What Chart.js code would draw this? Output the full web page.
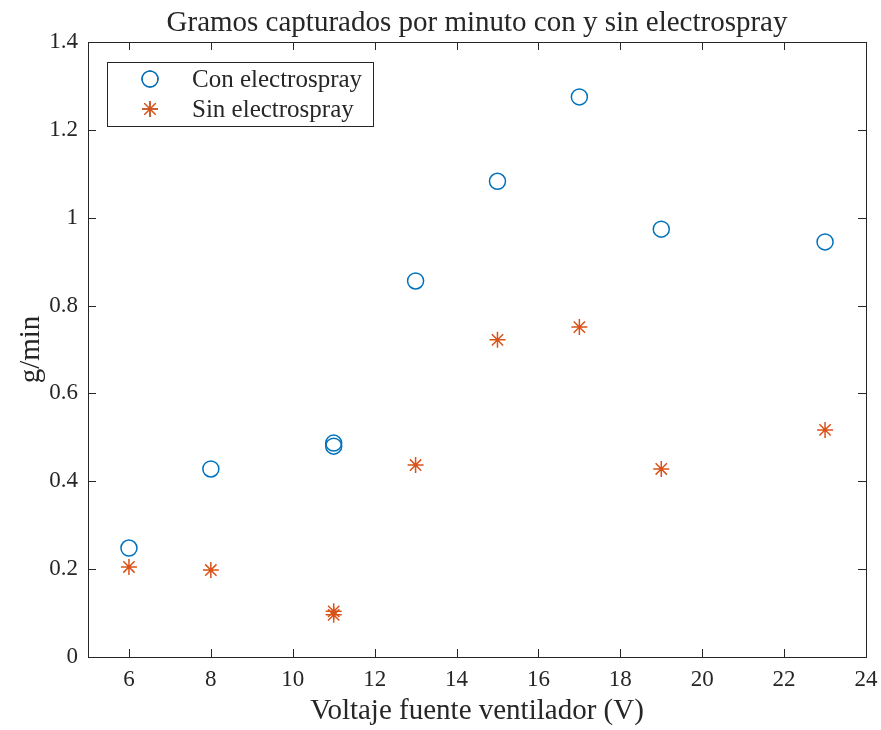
<!DOCTYPE html>
<html>
<head>
<meta charset="utf-8">
<title>Gramos capturados por minuto</title>
<script src="https://cdn.jsdelivr.net/npm/chart.js@4"></script>
<style>
  html, body { margin: 0; padding: 0; background: #fff; }
  canvas { display: block; }
</style>
</head>
<body>
<canvas id="chart" width="881" height="730"></canvas>
<script>
// voltage (V) and captured grams per minute
const voltaje = [6, 8, 11, 11, 13, 15, 17, 19, 23];
const conElectrospray = [0.248, 0.428, 0.487, 0.480, 0.856, 1.083, 1.275, 0.974, 0.945];
const sinElectrospray = [0.205, 0.198, 0.104, 0.096, 0.437, 0.722, 0.751, 0.428, 0.517];
const xTicks = [6, 8, 10, 12, 14, 16, 18, 20, 22, 24];
const yTicks = [0, 0.2, 0.4, 0.6, 0.8, 1, 1.2, 1.4];

const FONT = '"Liberation Serif", "DejaVu Serif", serif';
const AXIS_COLOR = '#262626';
const BLUE = '#0072BD';
const ORANGE = '#D95319';

const toPoints = ys => ys.map((y, i) => ({ x: voltaje[i], y: y }));

// box around the plot with inward ticks on all four sides, plus the legend
const boxPlugin = {
    id: 'box',
    afterDraw(chart) {
        const { ctx, chartArea: a, scales } = chart;
        ctx.save();
        ctx.strokeStyle = AXIS_COLOR;
        ctx.lineWidth = 1;
        ctx.strokeRect(a.left + 0.5, a.top + 0.5, a.right - a.left, a.bottom - a.top);
        const len = 8;
        ctx.beginPath();
        xTicks.forEach(v => {
            const px = Math.round(scales.x.getPixelForValue(v)) + 0.5;
            ctx.moveTo(px, a.bottom); ctx.lineTo(px, a.bottom - len);
            ctx.moveTo(px, a.top); ctx.lineTo(px, a.top + len);
        });
        yTicks.forEach(v => {
            const py = Math.round(scales.y.getPixelForValue(v)) + 0.5;
            ctx.moveTo(a.left, py); ctx.lineTo(a.left + len, py);
            ctx.moveTo(a.right, py); ctx.lineTo(a.right - len, py);
        });
        ctx.stroke();

        // legend
        const lx = 107, ly = 62, lw = 266, lh = 64;
        ctx.fillStyle = '#fff';
        ctx.fillRect(lx, ly, lw, lh);
        ctx.strokeRect(lx + 0.5, ly + 0.5, lw, lh);
        ctx.font = '25px ' + FONT;
        ctx.textBaseline = 'middle';
        ctx.textAlign = 'left';
        chart.data.datasets.forEach((ds, i) => {
            const y = ly + 17 + i * 30;
            Chart.helpers.drawPoint(ctx, {
                pointStyle: ds.pointStyle,
                radius: ds.pointRadius,
                borderWidth: ds.borderWidth,
                rotation: 0
            }, 150, y);
            ctx.strokeStyle = ds.borderColor;
            ctx.lineWidth = ds.borderWidth;
            ctx.stroke();
            ctx.fillStyle = AXIS_COLOR;
            ctx.fillText(ds.label, 192, y + 1);
            ctx.strokeStyle = AXIS_COLOR;
            ctx.lineWidth = 1;
        });
        ctx.restore();
    }
};

new Chart(document.getElementById('chart'), {
    type: 'scatter',
    data: {
        datasets: [
            {
                label: 'Con electrospray',
                data: toPoints(conElectrospray),
                pointStyle: 'circle',
                pointRadius: 8,
                borderWidth: 1.5,
                borderColor: BLUE,
                backgroundColor: 'rgba(0,0,0,0)'
            },
            {
                label: 'Sin electrospray',
                data: toPoints(sinElectrospray),
                pointStyle: 'star',
                pointRadius: 8,
                borderWidth: 1.5,
                borderColor: ORANGE,
                backgroundColor: ORANGE
            }
        ]
    },
    options: {
        responsive: false,
        animation: false,
        layout: { padding: { left: 0, right: 15, top: 0, bottom: 0 } },
        plugins: {
            legend: { display: false },
            tooltip: { enabled: false },
            title: {
                display: true,
                fullSize: false,
                text: 'Gramos capturados por minuto con y sin electrospray',
                color: AXIS_COLOR,
                font: { family: FONT, size: 29, weight: 'normal', lineHeight: 1.2 },
                padding: { top: 6, bottom: 1.2 }
            }
        },
        scales: {
            x: {
                type: 'linear',
                min: 5,
                max: 24,
                afterBuildTicks: s => { s.ticks = xTicks.map(v => ({ value: v })); },
                afterFit: s => { s.height = 73; s.paddingLeft = 0; s.paddingRight = 0; },
                grid: { display: false, tickLength: 0 },
                border: { display: false },
                ticks: {
                    color: AXIS_COLOR,
                    padding: 9,
                    maxRotation: 0,
                    font: { family: FONT, size: 23 }
                },
                title: {
                    display: true,
                    text: 'Voltaje fuente ventilador (V)',
                    color: AXIS_COLOR,
                    padding: { top: 0, bottom: 1 },
                    font: { family: FONT, size: 29 }
                }
            },
            y: {
                min: 0,
                max: 1.4,
                afterBuildTicks: s => { s.ticks = yTicks.map(v => ({ value: v })); },
                afterFit: s => { s.width = 88; s.paddingTop = 0; s.paddingBottom = 0; },
                grid: { display: false, tickLength: 0 },
                border: { display: false },
                ticks: {
                    color: AXIS_COLOR,
                    padding: 10,
                    font: { family: FONT, size: 23 },
                    callback: v => String(v)
                },
                title: {
                    display: true,
                    text: 'g/min',
                    color: AXIS_COLOR,
                    padding: { top: 14, bottom: 0 },
                    font: { family: FONT, size: 29 }
                }
            }
        }
    },
    plugins: [boxPlugin]
});
</script>
</body>
</html>
